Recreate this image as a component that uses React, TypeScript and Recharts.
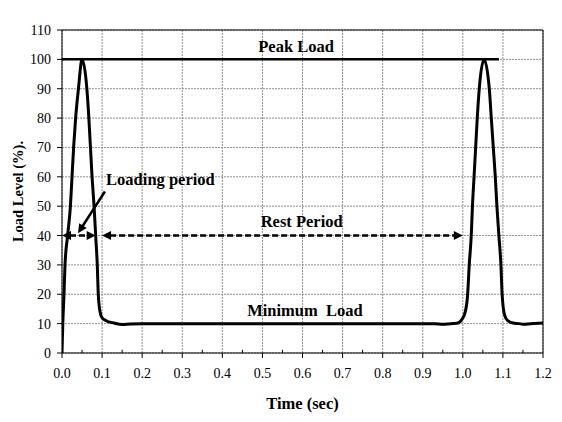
import { ComposedChart, Line, XAxis, YAxis, CartesianGrid, ReferenceLine, ReferenceDot } from "recharts";

// load curve (time in sec, load in %)
const TIME = [
  0, 0.002, 0.005, 0.0075, 0.014, 0.021, 0.025, 0.029, 0.034, 0.041, 0.05,
  0.062, 0.067, 0.071, 0.075, 0.08, 0.084, 0.088, 0.0905, 0.095, 0.1, 0.11, 0.13, 0.15, 0.17,
  0.2, 0.3, 0.4, 0.5, 0.6, 0.7, 0.8, 0.9, 0.93, 0.95, 0.97, 0.985,
  0.998, 1.006, 1.012, 1.016, 1.021, 1.024, 1.028, 1.032, 1.036, 1.041, 1.053,
  1.066, 1.071, 1.076, 1.081, 1.085, 1.09, 1.095, 1.098, 1.104, 1.112, 1.125, 1.14, 1.15, 1.17, 1.2,
];
const LOAD = [
  0, 10, 20, 30, 40, 50, 60, 70, 80, 90, 100,
  90, 80, 70, 60, 50, 40, 30, 20, 14, 12, 11, 10.2, 9.7, 9.9,
  10, 10, 10, 10, 10, 10, 10, 10, 10, 9.8, 10, 10.1,
  11.5, 14, 20, 30, 40, 50, 60, 70, 80, 90, 100,
  90, 80, 70, 60, 50, 40, 30, 20, 13, 11, 10.2, 10, 9.8, 10, 10.2,
];

const X_TICKS = [0, 0.1, 0.2, 0.3, 0.4, 0.5, 0.6, 0.7, 0.8, 0.9, 1.0, 1.1, 1.2];
const X_MINOR = [0.05, 0.15, 0.25, 0.35, 0.45, 0.55, 0.65, 0.75, 0.85, 0.95, 1.05, 1.15];
const Y_TICKS = [0, 10, 20, 30, 40, 50, 60, 70, 80, 90, 100, 110];

const PEAK_END = 1.09;
const LOADING = [0, 0.084];
const REST = [0.1, 1.0];
const ARROW_LEVEL = 40;
const POINTER = [{ x: 0.107, y: 55 }, { x: 0.04, y: 40.8 }];

const data = TIME.map((t, i) => ({ t, load: LOAD[i] }));

const FONT = "'Liberation Serif', 'Times New Roman', serif";
const tickStyle = { fontFamily: FONT, fontSize: 14, fill: "#000" };
const noteLabel = (value: string) => ({
  value,
  position: "center" as const,
  fill: "#000",
  fontSize: 16.5,
  fontWeight: "bold",
  fontFamily: FONT,
});

// line with arrow heads drawn from the reference line end points
const arrowShape = (opts: { start?: boolean; end?: boolean; dash?: string }) => (p: any) => {
  const { x1, y1, x2, y2 } = p;
  const dx = x2 - x1;
  const dy = y2 - y1;
  const len = Math.hypot(dx, dy) || 1;
  const ux = dx / len;
  const uy = dy / len;
  const hl = 9;
  const hw = 4.5;
  const head = (tx: number, ty: number, dx2: number, dy2: number) => {
    const bx = tx - dx2 * hl;
    const by = ty - dy2 * hl;
    return `${tx},${ty} ${bx - dy2 * hw},${by + dx2 * hw} ${bx + dy2 * hw},${by - dx2 * hw}`;
  };
  const sx = opts.start ? x1 + ux * (hl - 1) : x1;
  const sy = opts.start ? y1 + uy * (hl - 1) : y1;
  const ex = opts.end ? x2 - ux * (hl - 1) : x2;
  const ey = opts.end ? y2 - uy * (hl - 1) : y2;
  return (
    <g>
      <line x1={sx} y1={sy} x2={ex} y2={ey} stroke="#000" strokeWidth={2.5} strokeDasharray={opts.dash} />
      {opts.start && <polygon points={head(x1, y1, -ux, -uy)} fill="#000" />}
      {opts.end && <polygon points={head(x2, y2, ux, uy)} fill="#000" />}
    </g>
  );
};

export default function App() {
  return (
    <div style={{ position: "absolute", left: 0, top: 0, background: "#fff" }}>
      <ComposedChart width={562} height={422} data={data} margin={{ top: 30, right: 19, bottom: 39, left: 22 }}>
        <CartesianGrid stroke="#909090" strokeDasharray="2 1" />
        <XAxis
          dataKey="t"
          type="number"
          domain={[0, 1.2]}
          ticks={X_TICKS}
          interval={0}
          tickFormatter={(v) => v.toFixed(1)}
          tick={tickStyle}
          tickSize={5}
          tickMargin={10}
          height={30}
          stroke="#000"
          allowDataOverflow
          label={{
            value: "Time (sec)",
            position: "bottom",
            offset: 14,
            fill: "#000",
            fontSize: 16.5,
            fontWeight: "bold",
            fontFamily: FONT,
          }}
        />
        <YAxis
          type="number"
          domain={[0, 110]}
          ticks={Y_TICKS}
          interval={0}
          tick={tickStyle}
          tickSize={5}
          tickMargin={6}
          width={40}
          stroke="#000"
          allowDataOverflow
          label={{
            content: (props: any) => {
              const vb = props.viewBox;
              const cx = vb.x - 4;
              const cy = vb.y + vb.height / 2;
              return (
                <text
                  x={cx}
                  y={cy}
                  transform={`rotate(-90 ${cx} ${cy})`}
                  textAnchor="middle"
                  dominantBaseline="central"
                  fontFamily={FONT}
                  fontSize={14.5}
                  fontWeight="bold"
                  fill="#000"
                >
                  Load Level (%).
                </text>
              );
            },
          }}
        />
        {/* plot frame */}
        <ReferenceLine y={110} stroke="#000" strokeWidth={1} />
        <ReferenceLine x={1.2} stroke="#000" strokeWidth={1} />
        {X_MINOR.map((m) => (
          <ReferenceLine key={m} segment={[{ x: m, y: 0 }, { x: m, y: 1.1 }]} stroke="#000" strokeWidth={1} />
        ))}
        <ReferenceLine segment={[{ x: 0, y: 100 }, { x: PEAK_END, y: 100 }]} stroke="#000" strokeWidth={2.5} />
        <ReferenceLine
          segment={[{ x: LOADING[0], y: ARROW_LEVEL }, { x: LOADING[1], y: ARROW_LEVEL }]}
          shape={arrowShape({ start: true, end: true, dash: "6 3" })}
        />
        <ReferenceLine
          segment={[{ x: REST[0], y: ARROW_LEVEL }, { x: REST[1], y: ARROW_LEVEL }]}
          shape={arrowShape({ start: true, end: true, dash: "6 3" })}
        />
        <ReferenceLine segment={POINTER} shape={arrowShape({ end: true })} />
        <Line
          dataKey="load"
          type="monotone"
          stroke="#000"
          strokeWidth={3}
          dot={false}
          isAnimationActive={false}
        />
        <ReferenceDot x={0.584} y={104.4} r={0} stroke="none" label={noteLabel("Peak Load")} />
        <ReferenceDot x={0.598} y={44.9} r={0} stroke="none" label={noteLabel("Rest Period")} />
        <ReferenceDot x={0.606} y={14.6} r={0} stroke="none" label={noteLabel("Minimum\u00A0 Load")} />
        <ReferenceDot x={0.2456} y={59.2} r={0} stroke="none" label={noteLabel("Loading period")} />
      </ComposedChart>
    </div>
  );
}
